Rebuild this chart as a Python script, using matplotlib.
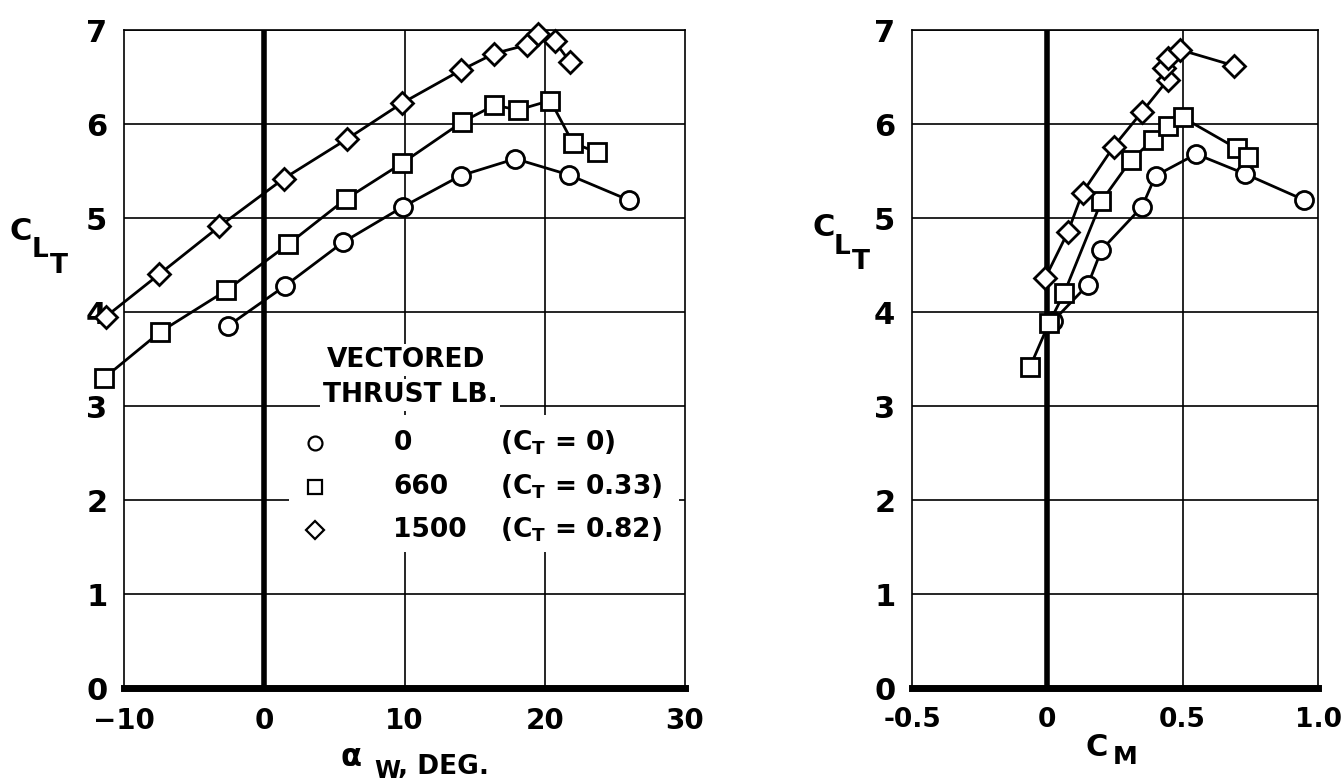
import matplotlib
matplotlib.use('Agg')
import matplotlib.pyplot as plt
from matplotlib.patches import Rectangle

plt.rcParams['font.family'] = ['DejaVu Sans']
plt.rcParams['font.weight'] = 'bold'
plt.rcParams['mathtext.fontset'] = 'dejavusans'

W, H = 1341, 784

# lift coefficient vs wing angle of attack
alpha_0 = [-2.6, 1.5, 5.6, 9.9, 14.0, 17.9, 21.7, 26.0]
cl_0 = [3.85, 4.28, 4.74, 5.12, 5.45, 5.63, 5.46, 5.19]
alpha_660 = [-11.4, -7.4, -2.7, 1.7, 5.8, 9.8, 14.1, 16.4, 18.1, 20.4, 22.0, 23.7]
cl_660 = [3.30, 3.79, 4.23, 4.72, 5.20, 5.58, 6.02, 6.20, 6.15, 6.25, 5.80, 5.70]
alpha_1500 = [-11.3, -7.5, -3.2, 1.4, 5.9, 9.8, 14.0, 16.4, 18.7, 19.5, 20.7, 21.8]
cl_1500 = [3.95, 4.40, 4.91, 5.42, 5.84, 6.22, 6.57, 6.75, 6.84, 6.96, 6.88, 6.66]

# lift coefficient vs pitching moment coefficient
cm_0 = [0.02, 0.15, 0.20, 0.35, 0.40, 0.55, 0.73, 0.95]
cl_cm_0 = [3.90, 4.29, 4.66, 5.12, 5.45, 5.68, 5.47, 5.19]
cm_660 = [-0.065, 0.006, 0.062, 0.20, 0.31, 0.39, 0.445, 0.50, 0.70, 0.74]
cl_cm_660 = [3.41, 3.88, 4.20, 5.18, 5.62, 5.83, 5.98, 6.07, 5.74, 5.65]
cm_1500 = [-0.008, 0.076, 0.13, 0.245, 0.35, 0.445, 0.43, 0.447, 0.49, 0.69]
cl_cm_1500 = [4.36, 4.85, 5.27, 5.76, 6.13, 6.47, 6.60, 6.70, 6.79, 6.62]

thrust = ['0', '660', '1500']
ct_text = ['0', '0.33', '0.82']
markers = ['o', 's', 'D']
msizes = [13, 13, 11]

fig = plt.figure(figsize=(W / 100, H / 100), dpi=100)
ax1 = fig.add_axes([124 / W, 1 - 688 / H, 561 / W, 658 / H])
ax2 = fig.add_axes([912 / W, 1 - 688 / H, 406 / W, 658 / H])


def ftext(x, y, s, size=20, **kw):
    # place text by pixel position from the top-left corner
    fig.text(x / W, 1 - y / H, s, fontsize=size, ha='center', va='center', **kw)


def style_axes(ax, xlim, xticks, xlabels, vgrid, xsize):
    ax.set_xlim(*xlim)
    ax.set_ylim(0, 7)
    ax.set_xticks(xticks)
    ax.set_xticklabels(xlabels)
    ax.set_yticks(range(8))
    ax.tick_params(length=0)
    ax.tick_params(axis='x', pad=14, labelsize=xsize)
    ax.tick_params(axis='y', pad=12, labelsize=22)
    for y in range(1, 8):
        ax.axhline(y, color='black', lw=1.2, zorder=1)
    for x in vgrid:
        ax.axvline(x, color='black', lw=1.2, zorder=1)
    ax.axvline(0, color='black', lw=4, zorder=2)
    for side in ['left', 'right', 'top']:
        ax.spines[side].set_linewidth(1.2)
    ax.spines['bottom'].set_linewidth(5)


style_axes(ax1, (-10, 30), [-10, 0, 10, 20, 30], ['\u221210', '0', '10', '20', '30'], [10, 20], 20)
style_axes(ax2, (-0.5, 1.0), [-0.5, 0, 0.5, 1.0], ['-0.5', '0', '0.5', '1.0'], [0.5], 19)

left_sets = [(alpha_0, cl_0), (alpha_660, cl_660), (alpha_1500, cl_1500)]
right_sets = [(cm_0, cl_cm_0), (cm_660, cl_cm_660), (cm_1500, cl_cm_1500)]
for (x, y), m, ms in zip(left_sets, markers, msizes):
    ax1.plot(x, y, color='black', lw=2, marker=m, ms=ms, mfc='white', mec='black',
             mew=2, zorder=4, clip_on=False)
for (x, y), m, ms in zip(right_sets, markers, msizes):
    ax2.plot(x, y, color='black', lw=2, marker=m, ms=ms, mfc='white', mec='black',
             mew=2, zorder=4, clip_on=False)

# axis titles, subscripts set as stepped-down letters
ftext(21, 232, 'C', 22)
ftext(40, 250, 'L', 19)
ftext(59, 266, 'T', 19)
ftext(824, 228, 'C', 22)
ftext(842, 247, 'L', 19)
ftext(861, 262, 'T', 19)
ftext(351, 757, '\u03b1', 22)
ftext(387, 771, 'W', 17)
fig.text(398 / W, 1 - 767 / H, ', DEG.', fontsize=19, ha='left', va='center')
ftext(1097, 748, 'C', 22)
ftext(1125, 757, 'M', 18)

# legend block
ax1.add_patch(Rectangle((1.8, 1.45), 27.8, 1.45, facecolor='white', edgecolor='none', zorder=3))
white = dict(facecolor='white', edgecolor='none', pad=2)
ax1.text(10.1, 3.49, 'VECTORED', fontsize=19, ha='center', va='center', zorder=5, bbox=white)
ax1.text(10.4, 3.12, 'THRUST LB.', fontsize=19, ha='center', va='center', zorder=5, bbox=white)
row_y = [2.61, 2.14, 1.68]
for y, m, t, c in zip(row_y, markers, thrust, ct_text):
    ax1.plot([3.6], [y], marker=m, ms=10 if m != 'D' else 9, mfc='white', mec='black',
             mew=1.6, ls='none', zorder=5)
    ax1.text(9.2, y, t, fontsize=19, ha='left', va='center', zorder=5)
    ax1.text(16.8, y, r'$\mathbf{(C_T}$ = ' + c + ')', fontsize=19, ha='left', va='center', zorder=5)

fig.savefig('out.png', dpi=100)
